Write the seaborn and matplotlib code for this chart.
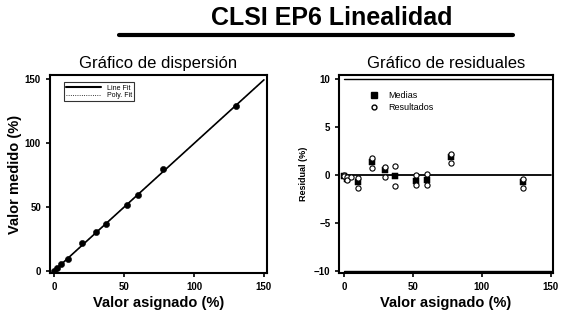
import numpy as np
import pandas as pd
import matplotlib
matplotlib.use("Agg")
import matplotlib.pyplot as plt
import seaborn as sns
from matplotlib.lines import Line2D

# values
asignado = [0, 2, 5, 10, 20, 30, 37, 52, 60, 78, 130]
medido = [0, 2.2, 5, 9.4, 21.6, 30.4, 37, 51.5, 59.5, 80, 129.3]
fit_x = [0, 150]
fit_y = [0.1, 149.6]

res_x_medias = [0, 2, 10, 20, 30, 37, 52, 60, 78, 130]
res_medias = [-0.1, -0.4, -0.7, 1.4, 0.5, -0.1, -0.6, -0.5, 1.9, -0.7]
res_x_result = [0, 0, 2, 2, 5, 10, 10, 20, 20, 30, 30, 37, 37, 52, 52, 60, 60, 78, 78, 130, 130]
res_result = [0, -0.1, -0.2, -0.5, -0.2, -0.3, -1.4, 1.8, 0.7, 0.8, -0.2, 0.9, -1.1,
              0.0, -1.0, 0.1, -1.0, 2.2, 1.2, -0.4, -1.4]
limit_x = [0, 150]

sns.set_style("ticks")
plt.rcParams['font.family'] = ['Liberation Sans', 'DejaVu Sans']
plt.rcParams.update({'text.color': 'black', 'axes.labelcolor': 'black',
                     'xtick.color': 'black', 'ytick.color': 'black'})

fig = plt.figure(figsize=(5.7, 3.18), dpi=100)
ax1 = fig.add_axes([0.0877, 0.1415, 0.380, 0.6226])
ax2 = fig.add_axes([0.5953, 0.1415, 0.3744, 0.6226])

# scatter plot
sns.lineplot(x=fit_x, y=fit_y, ax=ax1, color='black', linewidth=1.2)
sns.lineplot(x=fit_x, y=fit_y, ax=ax1, color='black', linewidth=0.6, linestyle=':')
sns.scatterplot(x=asignado, y=medido, ax=ax1, color='black', s=20, edgecolor='black', zorder=3)
ax1.set_xlim(-3.1, 151.9)
ax1.set_ylim(-1.8, 153.4)
ax1.set_xticks([0, 50, 100, 150])
ax1.set_yticks([0, 50, 100, 150])
ax1.set_xlabel('Valor asignado (%)', fontsize=10.5, fontweight='bold', labelpad=3)
ax1.set_ylabel('Valor medido (%)', fontsize=10.5, fontweight='bold', labelpad=2)
ax1.set_title('Gráfico de dispersión', fontsize=12, pad=5)
handles = [Line2D([], [], color='black', lw=1.5), Line2D([], [], color='black', lw=0.6, ls=':')]
leg = ax1.legend(handles, ['Line Fit', 'Poly. Fit'], loc='upper left', fontsize=5,
                 frameon=True, fancybox=False, edgecolor='black', handlelength=5,
                 borderpad=0.3, labelspacing=0.1, bbox_to_anchor=(0.05, 0.98))
leg.get_frame().set_linewidth(0.8)

# residual plot
sns.lineplot(x=limit_x, y=[0, 0], ax=ax2, color='black', linewidth=1.3)
sns.lineplot(x=limit_x, y=[10, 10], ax=ax2, color='black', linewidth=1.0)
sns.lineplot(x=limit_x, y=[-10, -10], ax=ax2, color='black', linewidth=1.0)
sns.scatterplot(x=res_x_medias, y=res_medias, ax=ax2, marker='s', color='black', s=20,
                edgecolor='black', zorder=3)
sns.scatterplot(x=res_x_result, y=res_result, ax=ax2, marker='o', facecolor='white',
                edgecolor='black', s=14, linewidth=0.8, zorder=4)
ax2.set_xlim(-3.4, 151.5)
ax2.set_ylim(-10.2, 10.4)
ax2.set_xticks([0, 50, 100, 150])
ax2.set_yticks([-10, -5, 0, 5, 10])
ax2.set_xlabel('Valor asignado (%)', fontsize=10.5, fontweight='bold', labelpad=3)
ax2.set_ylabel('Residual (%)', fontsize=6.5, fontweight='bold', labelpad=4)
ax2.set_title('Gráfico de residuales', fontsize=12, pad=5)
h2 = [Line2D([], [], marker='s', color='black', ls='', ms=4),
      Line2D([], [], marker='o', mfc='white', mec='black', ls='', ms=3.5)]
ax2.legend(h2, ['Medias', 'Resultados'], loc='upper left', fontsize=6.5, frameon=False,
           bbox_to_anchor=(0.08, 0.96), handletextpad=0.6, labelspacing=0.3)

for ax in (ax1, ax2):
    for sp in ax.spines.values():
        sp.set_visible(True)
        sp.set_linewidth(1.5)
        sp.set_color('black')
    ax.tick_params(labelsize=7, width=1.2, length=3, color='black')
    for lab in ax.get_xticklabels() + ax.get_yticklabels():
        lab.set_fontweight('bold')

fig.text(0.582, 0.942, 'CLSI EP6 Linealidad', ha='center', va='center', fontsize=18,
         fontweight='bold')
fig.add_artist(Line2D([0.209, 0.9], [0.89, 0.89], color='black', lw=3,
                      transform=fig.transFigure))

fig.savefig('out.png', dpi=100)
